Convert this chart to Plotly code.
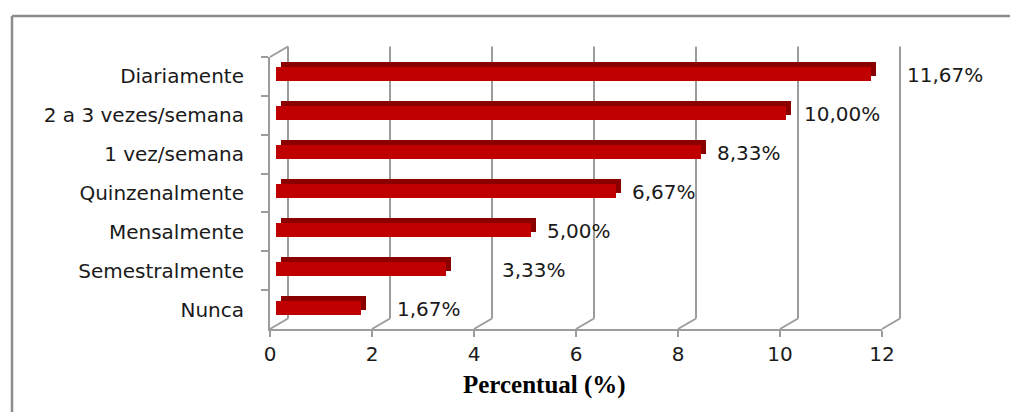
import plotly.graph_objects as go

# ---- data ----
categories = ["Nunca", "Semestralmente", "Mensalmente", "Quinzenalmente",
              "1 vez/semana", "2 a 3 vezes/semana", "Diariamente"]
values = [1.67, 3.33, 5.00, 6.67, 8.33, 10.00, 11.67]
value_labels = ["1,67%", "3,33%", "5,00%", "6,67%", "8,33%", "10,00%", "11,67%"]
x_ticks = [0, 2, 4, 6, 8, 10, 12]
axis_title = "Percentual (%)"

# ---- style / geometry (pixels) ----
W, H = 1010, 412
PX0, PX1 = 270, 882          # front x axis: 0 .. 12
PY_TOP, PY_BOT = 57, 329     # front y axis extent
label_shift = [40, 60, 20, 20, 20, 22, 40]   # label nudges (px)
GRID = "#9c9c9c"
TXT = "#1a1a1a"
FONT = "DejaVu Sans"
UNIT = (PX1 - PX0) / 12.0


def xdom(dx, pad=0.0):
    return [(PX0 + dx - pad * UNIT) / W, (PX1 + dx + pad * UNIT) / W]


def ydom(dy):
    # dy: pixels up
    return [(H - PY_BOT + dy) / H, (H - PY_TOP + dy) / H]


DEPTH = (18, 10.5)     # back wall offset
BAR_FRONT = (6, 2.4)   # bar front face offset
BAR_BACK = (11, 7.4)   # bar back (top/side) offset
PAD = 0.5              # extra data-units on the back-wall axis

fig = go.Figure()

# back faces of bars (dark)
fig.add_trace(go.Bar(x=values, y=categories, orientation="h", width=0.36,
                     marker=dict(color="#8a0000", line=dict(width=0)),
                     hoverinfo="skip", showlegend=False,
                     xaxis="x", yaxis="y"))
# front faces of bars
fig.add_trace(go.Bar(x=values, y=categories, orientation="h", width=0.36,
                     marker=dict(color="#c00000", line=dict(width=0)),
                     hoverinfo="skip", showlegend=False,
                     xaxis="x2", yaxis="y2"))
# front axes (labels)
fig.add_trace(go.Scatter(x=values, y=categories, mode="markers",
                         marker=dict(opacity=0), hoverinfo="skip",
                         showlegend=False, xaxis="x3", yaxis="y3"))
# back-wall axes (for grid shapes)
fig.add_trace(go.Scatter(x=values, y=categories, mode="markers",
                         marker=dict(opacity=0), hoverinfo="skip",
                         showlegend=False, xaxis="x4", yaxis="y4"))

hidden_x = dict(range=[0, 12], showgrid=False, zeroline=False,
                showticklabels=False, ticks="", showline=False,
                fixedrange=True, automargin=False)
hidden_y = dict(type="category", categoryarray=categories, range=[-0.5, 6.5],
                showgrid=False, zeroline=False, showticklabels=False,
                ticks="", showline=False, fixedrange=True, automargin=False)

fig.update_layout(
    width=W, height=H, autosize=False,
    margin=dict(l=0, r=0, t=0, b=0, pad=0, autoexpand=False),
    paper_bgcolor="white", plot_bgcolor="rgba(0,0,0,0)",
    bargap=0,
    xaxis=dict(hidden_x, domain=xdom(BAR_BACK[0]), anchor="y"),
    yaxis=dict(hidden_y, domain=ydom(BAR_BACK[1]), anchor="x"),
    xaxis2=dict(hidden_x, domain=xdom(BAR_FRONT[0]), anchor="y2"),
    yaxis2=dict(hidden_y, domain=ydom(BAR_FRONT[1]), anchor="x2"),
    xaxis3=dict(range=[0, 12], domain=xdom(0), anchor="y3",
                showgrid=False, zeroline=False, showline=True,
                linecolor=GRID, linewidth=2,
                ticks="outside", ticklen=6, tickwidth=2, tickcolor=GRID,
                tickvals=x_ticks, ticktext=[str(t) for t in x_ticks],
                tickfont=dict(family=FONT, size=20, color=TXT),
                fixedrange=True, automargin=False),
    yaxis3=dict(type="category", categoryarray=categories, range=[-0.5, 6.5],
                domain=ydom(0), anchor="x3",
                showgrid=False, zeroline=False, showline=True,
                linecolor=GRID, linewidth=2,
                ticks="outside", ticklen=7, tickwidth=2, tickcolor=GRID,
                tickson="boundaries", ticklabelstandoff=20,
                tickfont=dict(family=FONT, size=20, color=TXT),
                fixedrange=True, automargin=False),
    xaxis4=dict(hidden_x, range=[-PAD, 12 + PAD],
                domain=xdom(DEPTH[0], PAD), anchor="y4"),
    yaxis4=dict(hidden_y, domain=ydom(DEPTH[1]), anchor="x4"),
)

y_back_bottom = ydom(DEPTH[1])[0]
y_back_top = ydom(DEPTH[1])[1]
shapes = []
for t in x_ticks:
    # back wall vertical gridline
    shapes.append(dict(type="line", xref="x4", yref="paper", layer="below",
                       x0=t, x1=t, y0=y_back_bottom, y1=y_back_top,
                       line=dict(color=GRID, width=2)))
    # floor connector (back -> front)
    shapes.append(dict(type="line", xref="x4", yref="paper", layer="below",
                       xsizemode="pixel", xanchor=t, x0=-DEPTH[0], x1=0,
                       ysizemode="pixel", yanchor=y_back_bottom,
                       y0=-DEPTH[1], y1=0,
                       line=dict(color=GRID, width=2)))
# top-left corner connector
shapes.append(dict(type="line", xref="x4", yref="paper", layer="below",
                   xsizemode="pixel", xanchor=x_ticks[0], x0=-DEPTH[0], x1=0,
                   ysizemode="pixel", yanchor=y_back_top,
                   y0=-DEPTH[1], y1=0,
                   line=dict(color=GRID, width=2)))
# outer chart border (top and left edges; the rest lies outside the view)
border_top = (H - 16) / H
border_left = 12 / W
shapes.append(dict(type="line", xref="paper", yref="paper",
                   x0=border_left, x1=1.0, y0=border_top, y1=border_top,
                   line=dict(color="#8c8c8c", width=2.5)))
shapes.append(dict(type="line", xref="paper", yref="paper",
                   x0=border_left, x1=border_left, y0=0.0, y1=border_top,
                   line=dict(color="#8c8c8c", width=2.5)))
fig.update_layout(shapes=shapes)

annotations = []
for v, c, lab, sh in zip(values, categories, value_labels, label_shift):
    annotations.append(dict(x=v, y=c, xref="x3", yref="y3", text=lab,
                            showarrow=False, xanchor="left", yanchor="middle",
                            xshift=sh, yshift=1,
                            font=dict(family=FONT, size=20, color=TXT)))
annotations.append(dict(x=544 / W, y=(H - 385) / H, xref="paper", yref="paper",
                        text="<b>" + axis_title + "</b>", showarrow=False,
                        xanchor="center", yanchor="middle",
                        font=dict(family="Liberation Serif", size=25,
                                  color="black")))
fig.update_layout(annotations=annotations)

fig.write_html("out.html")
